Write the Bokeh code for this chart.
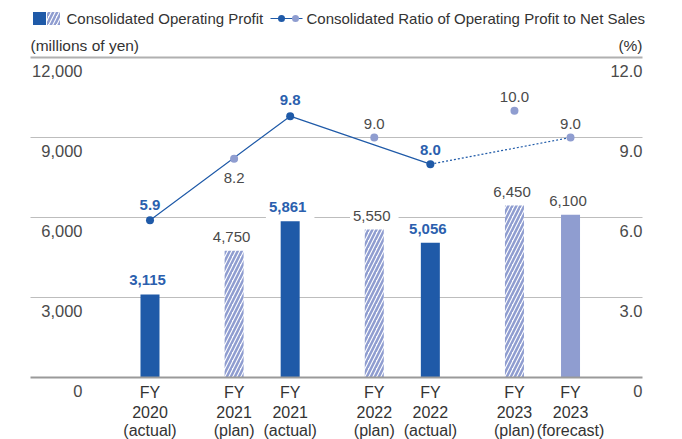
import numpy as np
from bokeh.plotting import figure
from bokeh.models import Range1d, ColumnDataSource
from bokeh.embed import file_html
from bokeh.resources import INLINE
from bokeh.core.properties import value

# ---------------- data ----------------
fiscal_years = ["2020", "2021", "2021", "2022", "2022", "2023", "2023"]
kinds = ["actual", "plan", "actual", "plan", "actual", "plan", "forecast"]
profit = [3115, 4750, 5861, 5550, 5056, 6450, 6100]
ratio = [5.9, 8.2, 9.8, 9.0, 8.0, 10.0, 9.0]
left_ticks = [0, 3000, 6000, 9000, 12000]
left_tick_labels = ["0", "3,000", "6,000", "9,000", "12,000"]
right_ticks = [0, 3.0, 6.0, 9.0, 12.0]
right_tick_labels = ["0", "3.0", "6.0", "9.0", "12.0"]
legend_bar = "Consolidated Operating Profit"
legend_line = "Consolidated Ratio of Operating Profit to Net Sales"
left_unit = "(millions of yen)"
right_unit = "(%)"

# ---------------- layout ----------------
FONT = value("Liberation Sans")
W, H = 682, 439
UNIT_PX = 56.07          # px per x unit
X0_PX = 149.5            # px of first category
Y0_PX = 377.0            # px of zero
Y_PER_PX = 37.5          # value units per px (left axis)

def dx(px):
    return (px - X0_PX) / UNIT_PX

def dy(py):
    return (Y0_PX - py) * Y_PER_PX

DARK = "#1f5aa8"
LIGHT = "#8f9dd0"
LABEL_BLUE = "#2b5fae"
GREY_TXT = "#4a4a4a"
GRID = "#bdbdbd"

n = len(kinds)
grp = np.cumsum([0] + [1 if fiscal_years[i] != fiscal_years[i - 1] else 0 for i in range(1, n)])
xpos = np.arange(n) + 0.5 * grp

p = figure(width=W, height=H, output_backend="svg", toolbar_location=None,
           x_range=Range1d(dx(0), dx(W)), y_range=Range1d(dy(H), dy(0)),
           x_axis_location=None, y_axis_location=None, min_border=0)
p.extra_y_ranges = {"pct": Range1d(dy(H) / 1000, dy(0) / 1000)}
p.grid.visible = False
p.outline_line_color = None

# gridlines
gx0, gx1 = dx(30), dx(642)
inner = [t for t in left_ticks if t not in (0, max(left_ticks))]
p.segment(x0=[gx0] * len(inner), x1=[gx1] * len(inner), y0=inner, y1=inner,
          line_color=GRID, line_width=1)
p.segment(x0=[gx0], x1=[gx1], y0=[max(left_ticks)], y1=[max(left_ticks)],
          line_color="#b0b0b0", line_width=2)

# tick labels
p.text(x=[dx(82)] * len(left_ticks), y=left_ticks, text=left_tick_labels,
       text_font=FONT, text_font_size="16.5px", text_color=GREY_TXT,
       text_align="right", text_baseline="middle", y_offset=13)
p.text(x=[gx1] * len(right_ticks), y=right_ticks, text=right_tick_labels,
       text_font=FONT, text_font_size="16.5px", text_color=GREY_TXT,
       text_align="right", text_baseline="middle", y_offset=13, y_range_name="pct")

# bars
bw = 19 / UNIT_PX
kinds_a = np.array(kinds)
prof_a = np.array(profit)
act = kinds_a == "actual"
pln = kinds_a == "plan"
fct = kinds_a == "forecast"
p.vbar(x=xpos[act], top=prof_a[act], bottom=0, width=bw, fill_color=DARK, line_color=None)
p.vbar(x=xpos[pln], top=prof_a[pln], bottom=0, width=bw, fill_color="white", line_color=None,
       hatch_pattern="/", hatch_color=LIGHT, hatch_weight=2.5, hatch_scale=8)
p.vbar(x=xpos[fct], top=prof_a[fct], bottom=0, width=bw, fill_color=LIGHT, line_color=None)

# baseline
p.segment(x0=[gx0], x1=[gx1], y0=[0], y1=[0], line_color="#9a9a9a", line_width=2)

# ratio line
rat_a = np.array(ratio)
ai = np.where(act)[0]
fi = np.where(fct)[0]
p.line(x=xpos[ai], y=rat_a[ai], line_color=DARK, line_width=1.2, y_range_name="pct")
dot_idx = [ai[-1], fi[0]]
p.line(x=xpos[dot_idx], y=rat_a[dot_idx], line_color=DARK, line_width=1.2,
       line_dash="2 2", y_range_name="pct")
p.scatter(x=xpos[~act], y=rat_a[~act], size=8, fill_color=LIGHT, line_color=None, y_range_name="pct")
p.scatter(x=xpos[act], y=rat_a[act], size=8, fill_color=DARK, line_color=None, y_range_name="pct")

# value labels for bars
bar_txt = [f"{v:,}" for v in profit]
bar_src = ColumnDataSource(dict(x=xpos, y=profit, t=bar_txt,
                                c=[LABEL_BLUE if k == "actual" else GREY_TXT for k in kinds],
                                s=["bold" if k == "actual" else "normal" for k in kinds]))
p.text(x="x", y="y", text="t", source=bar_src, text_color="c", text_font_style="s",
       text_font=FONT, text_font_size="15px", text_align="center", text_baseline="middle",
       y_offset=-11, background_fill_color="white", padding=[3, 8, 2, 8])

# value labels for ratio points
ratio_off = [-15, 19, -16, -14, -14, -14, -14]
rat_src = ColumnDataSource(dict(x=xpos, y=ratio, t=[f"{v:.1f}" for v in ratio], o=ratio_off,
                                c=[LABEL_BLUE if k == "actual" else GREY_TXT for k in kinds],
                                s=["bold" if k == "actual" else "normal" for k in kinds]))
p.text(x="x", y="y", text="t", source=rat_src, text_color="c", text_font_style="s",
       text_font=FONT, text_font_size="15px", text_align="center", text_baseline="middle",
       y_offset="o", y_range_name="pct")

# x category labels
xl_src = ColumnDataSource(dict(x=xpos, fy=["FY"] * n, yr=fiscal_years, k=[f"({k})" for k in kinds]))
for col, off in (("fy", 15), ("yr", 34), ("k", 53)):
    p.text(x="x", y=0, text=col, source=xl_src, text_font=FONT, text_font_size="16px",
           text_color="#333333", text_align="center", text_baseline="middle", y_offset=off)

# legend
p.rect(x=[dx(39)], y=[dy(18)], width=13, height=13, width_units="screen", height_units="screen",
       fill_color=DARK, line_color=None)
p.rect(x=[dx(53)], y=[dy(18)], width=13, height=13, width_units="screen", height_units="screen",
       fill_color="white", line_color=None, hatch_pattern="/", hatch_color=LIGHT,
       hatch_weight=2.5, hatch_scale=8)
p.text(x=[dx(66)], y=[dy(18)], text=[legend_bar], text_font=FONT, text_font_size="15px",
       text_color="#333333", text_align="left", text_baseline="middle")
p.segment(x0=[dx(270)], x1=[dx(302)], y0=[dy(18)], y1=[dy(18)], line_color=DARK, line_width=1.2)
p.scatter(x=[dx(281)], y=[dy(18)], size=7, fill_color=DARK, line_color=None)
p.scatter(x=[dx(295)], y=[dy(18)], size=7, fill_color=LIGHT, line_color=None)
p.text(x=[dx(306)], y=[dy(18)], text=[legend_line], text_font=FONT, text_font_size="15px",
       text_color="#333333", text_align="left", text_baseline="middle")

# unit labels
p.text(x=[gx0], y=[dy(45)], text=[left_unit], text_font=FONT, text_font_size="15.5px",
       text_color="#333333", text_align="left", text_baseline="middle")
p.text(x=[gx1], y=[dy(45)], text=[right_unit], text_font=FONT, text_font_size="15.5px",
       text_color="#333333", text_align="right", text_baseline="middle")

open("out.html", "w").write(file_html(p, INLINE))
